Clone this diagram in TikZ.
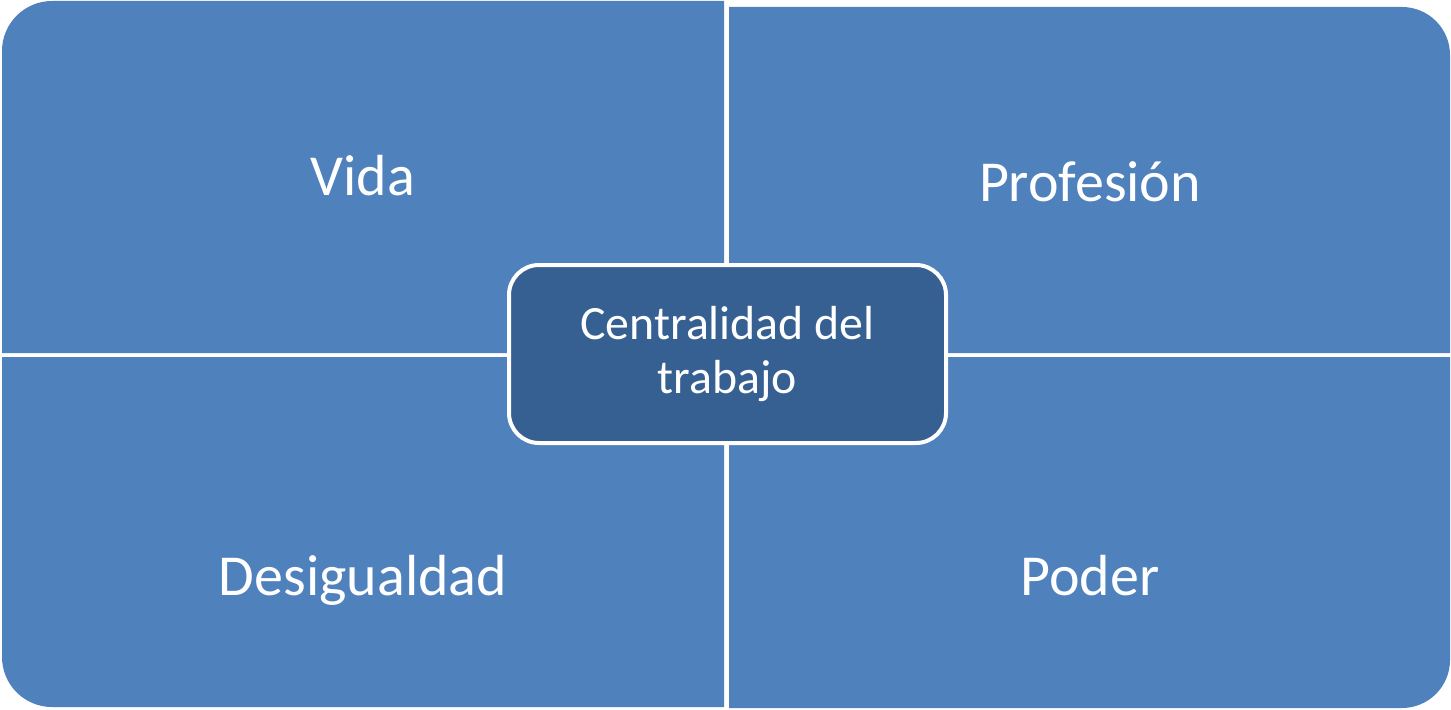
\documentclass[tikz,border=0pt]{standalone}
\usepackage{fontspec}
\setmainfont{Carlito}
\usepackage{tikz}
\usetikzlibrary{positioning}

\definecolor{quadblue}{RGB}{79,129,189}
\definecolor{hubblue}{RGB}{54,96,146}

\tikzset{
  quad/.style={fill=quadblue},
  lbl/.style={text=white, anchor=base, font=\fontsize{29}{32}\selectfont},
  hub/.style={draw=white, line width=2pt, fill=hubblue, rounded corners=15pt,
    minimum width=218.5pt, minimum height=89pt, text=white, align=center,
    font=\fontsize{23.9}{27}\selectfont}
}

\begin{document}
\begin{tikzpicture}[x=0.5pt, y=0.5pt]
  \useasboundingbox (0,0) rectangle (1451,709);
  \fill [quad] (724,356) -- (2,356) -- (2,658) arc [start angle=180, end angle=90, radius=50] -- (724,708) -- cycle;
  \fill [quad] (729,356) -- (729,702) -- (1402,702) arc [start angle=90, end angle=0, radius=48] -- (1450,356) -- cycle;
  \fill [quad] (724,352) -- (2,352) -- (2,52) arc [start angle=180, end angle=270, radius=50] -- (724,2) -- cycle;
  \fill [quad] (729,352) -- (729,1) -- (1402,1) arc [start angle=270, end angle=360, radius=48] -- (1450,352) -- cycle;
  \node (vida) at (363,514) [lbl] {Vida};
  \node (prof) at (1090,508) [lbl] {Profesión};
  \node (desig) at (363,114) [lbl] {Desigualdad};
  \node (poder) at (1090,114) [lbl] {Poder};
  \node (hub) at (727.5,355) [hub] {Centralidad del\\trabajo};
\end{tikzpicture}
\end{document}
